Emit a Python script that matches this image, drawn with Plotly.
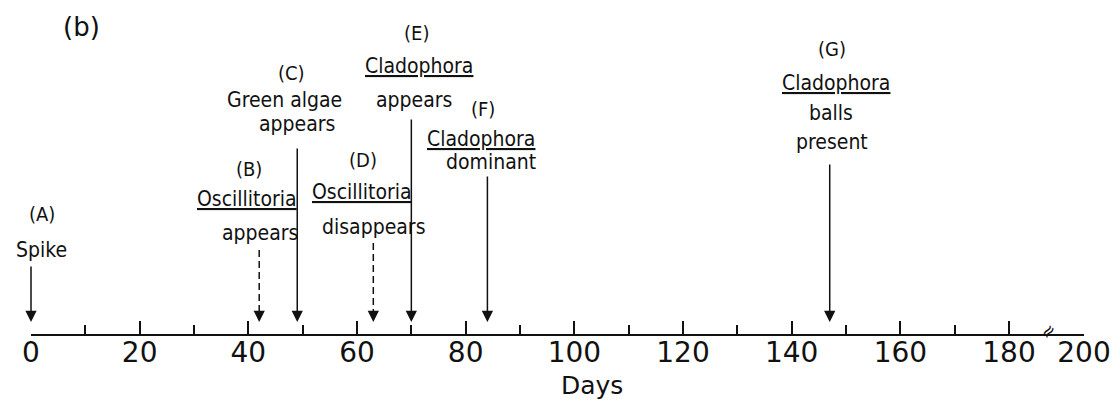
import plotly.graph_objects as go

# ---- timeline data -------------------------------------------------------
event_ids = ["A", "B", "C", "D", "E", "F", "G"]
event_days = [0, 42, 49, 63, 70, 84, 147]
event_dashed = [False, True, False, True, False, False, False]
event_lines = [
    ["Spike"],
    ["<u>Oscillitoria</u>", "appears"],
    ["Green algae", "appears"],
    ["<u>Oscillitoria</u>", "disappears"],
    ["<u>Cladophora</u>", "appears"],
    ["<u>Cladophora</u>", "dominant"],
    ["<u>Cladophora</u>", "balls", "present"],
]

major_days = [0, 20, 40, 60, 80, 100, 120, 140, 160, 180, 200]
minor_days = [10, 30, 50, 70, 90, 110, 130, 150, 170]
axis_title = "Days"
panel_label = "(b)"

# ---- broken axis: days beyond the break are compressed --------------------
BREAK_DAY = 187
AFTER_BREAK_SCALE = 0.523


def axis_pos(day):
    if day <= BREAK_DAY:
        return day
    return BREAK_DAY + (day - BREAK_DAY) * AFTER_BREAK_SCALE


# ---- placement of labels (pixel offsets; y measured up from the axis line) -
TIP_Y = 12
label_layout = {
    "A": dict(tail=69, rows=[(11, 120), (10, 84)]),
    "B": dict(tail=84, rows=[(-10, 165), (-12, 135), (1, 101)]),
    "C": dict(tail=187, rows=[(-6, 261), (-13, 234), (0, 210)]),
    "D": dict(tail=91, rows=[(-10, 174), (-11, 142), (0, 107)]),
    "E": dict(tail=216, rows=[(5, 301), (8, 268), (3, 234)]),
    "F": dict(tail=159, rows=[(-4, 225), (-6, 195), (4, 172)]),
    "G": dict(tail=171, rows=[(2, 285), (6, 251), (1, 221), (2, 192)]),
}

LABEL_FONT = "DejaVu Sans Condensed, Liberation Sans Narrow, sans-serif"
TICK_FONT = "DejaVu Sans, Verdana, sans-serif"
INK = "#111111"

fig = go.Figure()
# invisible trace so both axes exist
fig.add_trace(go.Scatter(x=[axis_pos(d) for d in event_days], y=[0] * len(event_days),
                         mode="markers", marker=dict(opacity=0), hoverinfo="skip",
                         showlegend=False))

annotations = []
shapes = []
for eid, day, dashed, lines in zip(event_ids, event_days, event_dashed, event_lines):
    lay = label_layout[eid]
    x = axis_pos(day)
    texts = [f"({eid})"] + lines
    for i, (text, (dx, y)) in enumerate(zip(texts, lay["rows"])):
        annotations.append(dict(
            x=x, y=y, xref="x", yref="y", xshift=dx, text=text, showarrow=False,
            xanchor="center", yanchor="middle",
            font=dict(family=LABEL_FONT, size=20 if i == 0 else 21, color=INK)))
    if dashed:
        shapes.append(dict(type="line", xref="x", yref="y", x0=x, x1=x,
                           y0=lay["tail"], y1=TIP_Y + 6,
                           line=dict(color=INK, width=1.5, dash="7px,4px")))
        annotations.append(dict(x=x, y=TIP_Y, xref="x", yref="y", ax=x, ay=TIP_Y + 12,
                                axref="x", ayref="y", text="", showarrow=True,
                                arrowhead=2, arrowsize=1.5, arrowwidth=1.5,
                                arrowcolor=INK))
    else:
        annotations.append(dict(x=x, y=TIP_Y, xref="x", yref="y", ax=x, ay=lay["tail"],
                                axref="x", ayref="y", text="", showarrow=True,
                                arrowhead=2, arrowsize=1.5, arrowwidth=1.5,
                                arrowcolor=INK))

# axis break mark
annotations.append(dict(x=BREAK_DAY, y=3, xref="x", yref="y", text="\u2248",
                        showarrow=False, textangle=-50,
                        font=dict(family=TICK_FONT, size=18, color=INK)))
# axis title
annotations.append(dict(x=0.533, y=(334 - 385) / 334, xref="paper", yref="paper",
                        text=axis_title, showarrow=False, xanchor="center",
                        yanchor="middle",
                        font=dict(family=TICK_FONT, size=25, color=INK)))
# panel label
annotations.append(dict(x=(81 - 31) / 1053, y=(334 - 27) / 334, xref="paper",
                        yref="paper", text=panel_label, showarrow=False,
                        xanchor="center", yanchor="middle",
                        font=dict(family=TICK_FONT, size=26, color=INK)))

fig.update_layout(
    width=1120, height=409,
    margin=dict(l=31, r=36, t=0, b=75),
    paper_bgcolor="white", plot_bgcolor="white",
    annotations=annotations, shapes=shapes,
    xaxis=dict(
        range=[0, axis_pos(200)],
        tickmode="array",
        tickvals=[axis_pos(d) for d in major_days],
        ticktext=[str(d) for d in major_days],
        ticks="inside", ticklen=13, tickwidth=1.5, tickcolor=INK,
        minor=dict(tickmode="array", tickvals=[axis_pos(d) for d in minor_days],
                   ticks="inside", ticklen=9, tickwidth=1.5, tickcolor=INK,
                   showgrid=False),
        showline=True, linecolor=INK, linewidth=1.5,
        showgrid=False, zeroline=False,
        ticklabelstandoff=-7,
        tickfont=dict(family=TICK_FONT, size=28, color=INK),
        fixedrange=True,
    ),
    yaxis=dict(range=[0, 334], visible=False, fixedrange=True),
)

fig.write_html("out.html")
